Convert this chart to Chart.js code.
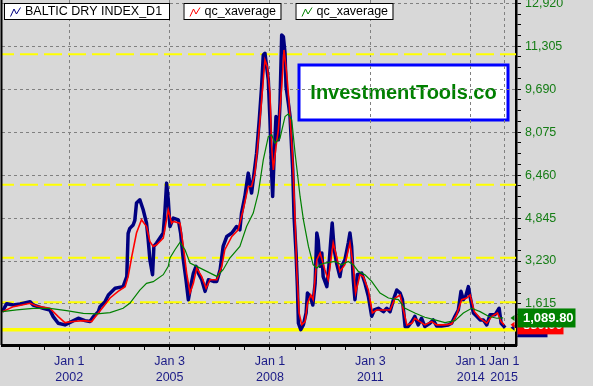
<!DOCTYPE html>
<html><head><meta charset="utf-8">
<script src="https://cdn.jsdelivr.net/npm/chart.js@4.4.0/dist/chart.umd.min.js"></script>
<style>
html,body{margin:0;padding:0;background:#d8d8d8;overflow:hidden;}
canvas{display:block;}
</style></head><body>
<canvas id="c" width="593" height="386"></canvas>
<script>
// ---------- DATA ----------
const bdiDates = [2000.00,2000.13,2000.33,2000.53,2000.83,2000.92,2001.22,2001.42,2001.52,2001.67,2001.87,2002.07,2002.27,2002.47,2002.62,2002.72,2002.87,2002.92,2003.07,2003.17,2003.37,2003.61,2003.72,2003.76,2003.81,2003.91,2003.96,2004.01,2004.11,2004.21,2004.31,2004.36,2004.41,2004.49,2004.53,2004.61,2004.81,2004.86,2004.91,2004.96,2005.01,2005.11,2005.26,2005.33,2005.41,2005.49,2005.56,2005.63,2005.71,2005.79,2005.86,2005.96,2006.06,2006.16,2006.31,2006.41,2006.51,2006.60,2006.71,2006.86,2007.00,2007.10,2007.15,2007.25,2007.35,2007.40,2007.45,2007.50,2007.60,2007.68,2007.75,2007.80,2007.85,2007.90,2007.95,2008.00,2008.05,2008.08,2008.12,2008.18,2008.25,2008.30,2008.35,2008.40,2008.45,2008.48,2008.55,2008.60,2008.68,2008.72,2008.78,2008.82,2008.85,2008.92,2009.00,2009.08,2009.12,2009.20,2009.28,2009.35,2009.40,2009.44,2009.50,2009.55,2009.59,2009.70,2009.76,2009.82,2009.86,2009.92,2009.99,2010.09,2010.14,2010.24,2010.34,2010.39,2010.44,2010.49,2010.54,2010.61,2010.74,2010.84,2010.94,2011.04,2011.12,2011.24,2011.39,2011.49,2011.59,2011.69,2011.79,2011.89,2011.96,2012.04,2012.13,2012.24,2012.33,2012.43,2012.53,2012.63,2012.78,2012.88,2012.98,2013.13,2013.33,2013.43,2013.53,2013.63,2013.71,2013.78,2013.85,2013.93,2013.98,2014.08,2014.18,2014.28,2014.38,2014.48,2014.58,2014.73,2014.85,2014.91,2014.98,2015.03];
const bdiValues = [1326,1627,1577,1615,1703,1577,1453,1390,1139,891,828,954,1078,990,954,1139,1327,1515,1703,1954,2205,2267,2643,4270,4458,4584,4760,5408,5532,5157,4656,4030,3279,2716,3779,3906,4281,5094,6159,5532,4528,4845,4780,4281,3279,2528,1777,2267,2770,3030,2770,2528,2090,2528,2465,2465,2903,3779,4155,4281,4528,4405,5032,5658,6535,6159,5784,6284,7286,8537,9788,10978,11042,10539,10039,8537,6535,5658,7034,8661,7786,9164,11729,11666,11042,9788,9164,8661,6659,4905,3530,2267,891,649,838,1277,2028,1903,1577,2392,4281,4030,3030,3530,2643,2267,3030,4030,4656,3655,3154,2643,3030,3279,3906,4281,3779,2528,1777,2716,2779,2392,1903,1153,1390,1453,1327,1453,1327,1777,2140,2028,1777,767,767,954,1153,828,1078,767,891,1015,790,790,828,891,1153,1390,2090,1777,1903,2267,1903,1277,1153,1015,1015,828,1215,1215,1453,891,790,720];

const redDates = [2000.00,2000.33,2000.83,2001.03,2001.42,2001.67,2001.87,2002.12,2002.42,2002.67,2002.82,2003.02,2003.22,2003.46,2003.67,2003.76,2003.87,2004.01,2004.16,2004.31,2004.41,2004.51,2004.61,2004.81,2004.96,2005.06,2005.11,2005.31,2005.41,2005.51,2005.61,2005.71,2005.81,2005.96,2006.09,2006.21,2006.41,2006.56,2006.65,2006.86,2007.05,2007.20,2007.35,2007.45,2007.55,2007.65,2007.75,2007.85,2007.92,2008.00,2008.05,2008.10,2008.18,2008.25,2008.35,2008.42,2008.50,2008.58,2008.68,2008.75,2008.80,2008.87,2008.95,2009.05,2009.12,2009.22,2009.29,2009.40,2009.50,2009.64,2009.74,2009.89,2009.99,2010.09,2010.24,2010.39,2010.49,2010.56,2010.69,2010.79,2010.94,2011.06,2011.19,2011.39,2011.59,2011.74,2011.89,2011.99,2012.09,2012.24,2012.33,2012.48,2012.63,2012.83,2012.98,2013.23,2013.43,2013.58,2013.73,2013.88,2013.98,2014.11,2014.28,2014.48,2014.63,2014.80,2014.91,2015.00];
const redValues = [1326,1515,1640,1540,1453,1139,916,954,991,954,1202,1515,1840,2090,2267,2643,3405,4281,4784,4528,3967,3779,3843,4093,5157,4656,4718,4656,3779,2770,2028,2392,2966,2643,2205,2528,2528,3030,3655,4155,4405,5157,6034,6034,6535,7786,9288,10790,10539,9539,7534,6659,7534,8162,9788,11166,10290,9037,7034,4780,2903,1277,838,954,1640,1954,1777,3279,3530,2903,2528,3906,3405,2840,3091,3906,3030,2028,2716,2643,2140,1277,1390,1390,1390,1840,1954,1390,828,891,1078,954,828,954,828,828,866,1215,1777,1840,1954,1327,1078,891,1153,1277,954,830];

const greenDates = [2000.00,2000.43,2000.92,2001.42,2001.92,2002.42,2002.82,2003.22,2003.61,2003.81,2004.11,2004.31,2004.51,2004.81,2004.96,2005.01,2005.16,2005.31,2005.46,2005.61,2005.81,2006.11,2006.41,2006.60,2006.80,2007.10,2007.30,2007.50,2007.65,2007.80,2007.95,2008.05,2008.15,2008.30,2008.45,2008.55,2008.65,2008.75,2008.90,2009.00,2009.15,2009.29,2009.40,2009.50,2009.64,2009.94,2010.14,2010.34,2010.49,2010.64,2010.84,2011.04,2011.29,2011.54,2011.84,2012.04,2012.33,2012.63,2012.93,2013.23,2013.53,2013.78,2014.03,2014.28,2014.53,2014.78,2014.97];
const greenValues = [1326,1390,1453,1453,1365,1265,1240,1290,1453,1640,2140,2392,2455,2716,3030,3343,3655,3930,3655,3154,3030,2840,2652,2903,3343,3779,4528,5032,5784,7034,7910,7974,7662,7849,8661,8762,8537,7286,5658,4780,3779,3091,2966,3091,3154,3217,3091,3217,3091,2840,2716,2465,2028,1840,1777,1453,1277,1115,1015,916,991,1277,1453,1327,1153,1078,1089.8];

const legendLabels = ['BALTIC DRY INDEX_D1','qc_xaverage','qc_xaverage'];
const seriesColors = ['#000080','#ff0000','#008000'];

const xLabelTicks = [2002,2005,2008,2011,2014,2015];
const xLabelLines = [['Jan 1','2002'],['Jan 3','2005'],['Jan 1','2008'],['Jan 3','2011'],['Jan 1','2014'],['Jan 1','2015']];
const xMinorTicks = [2000.5,2001.25,2002.75,2003.5,2004.25,2005.75,2006.5,2007.25,2008.75,2009.5,2010.25,2011.75,2012.5,2013.25,2014.25,2014.5,2014.75];

const yLabelTicks = [1615,3230,4845,6460,8075,9690,11305,12920];
const yellowDashed = [11000,6100,3350,1680];
const yellowSolid = [650];
const watermarkText = 'InvestmentTools.co';

// ---------- CHART ----------
const FONT = '"Liberation Sans", Arial, sans-serif';
const xAll = xLabelTicks.concat(xMinorTicks).sort((a,b)=>a-b);
const yStep = yLabelTicks[0]/4;
const yAll = [];
for (let v = yStep; v <= yLabelTicks[yLabelTicks.length-1] + 1; v += yStep) yAll.push(Math.round(v*100)/100);
const isYLabel = v => yLabelTicks.some(t => Math.abs(t - v) < 0.5);

function pts(xs, ys){ return xs.map((x,i)=>({x:x, y:ys[i]})); }

const overlay = {
  id:'overlay',
  beforeDraw(chart){
    const ctx = chart.ctx;
    ctx.save();
    ctx.fillStyle = '#ffffff';
    ctx.fillRect(299,65,209,55);
    ctx.strokeStyle = '#0000ff'; ctx.lineWidth = 3;
    ctx.strokeRect(299,65,209,55);
    ctx.fillStyle = '#008000';
    ctx.font = 'bold 20px ' + FONT;
    ctx.textAlign = 'center'; ctx.textBaseline = 'middle';
    ctx.fillText(watermarkText, 403.5, 93);
    ctx.restore();
  },
  beforeDatasetsDraw(chart){
    const ctx = chart.ctx, a = chart.chartArea, ys = chart.scales.y;
    ctx.save();
    ctx.strokeStyle = '#ffff00';
    ctx.lineWidth = 2; ctx.setLineDash([18,6]); ctx.lineDashOffset = 6;
    yellowDashed.forEach(v => { const y = ys.getPixelForValue(v); ctx.beginPath(); ctx.moveTo(a.left, y); ctx.lineTo(a.right, y); ctx.stroke(); });
    ctx.setLineDash([]); ctx.lineWidth = 3.5;
    yellowSolid.forEach(v => { const y = ys.getPixelForValue(v); ctx.beginPath(); ctx.moveTo(a.left, y); ctx.lineTo(a.right, y); ctx.stroke(); });
    ctx.restore();
  },
  afterDraw(chart){
    const ctx = chart.ctx, a = chart.chartArea, ys = chart.scales.y;
    ctx.save();
    ctx.strokeStyle = '#000'; ctx.lineWidth = 2;
    ctx.beginPath(); ctx.moveTo(1.5, a.top); ctx.lineTo(1.5, a.bottom); ctx.stroke();
    const boxes = [[4,3,165,16],[183.5,3,97,16],[295.5,3,97,16]];
    ctx.font = '12.5px ' + FONT; ctx.textBaseline = 'middle'; ctx.textAlign = 'left';
    boxes.forEach((b,i) => {
      ctx.fillStyle = '#fff'; ctx.fillRect(b[0], b[1], b[2], b[3]);
      ctx.strokeStyle = '#000'; ctx.lineWidth = 1; ctx.strokeRect(b[0]+0.5, b[1]+0.5, b[2], b[3]);
      const ix = b[0] + 6.5, iy = b[1];
      ctx.strokeStyle = seriesColors[i]; ctx.lineWidth = 1;
      ctx.beginPath(); ctx.moveTo(ix, iy+13.5); ctx.lineTo(ix+3.5, iy+6); ctx.lineTo(ix+6, iy+11); ctx.lineTo(ix+10, iy+4.5); ctx.stroke();
      ctx.fillStyle = '#000';
      ctx.fillText(legendLabels[i], b[0] + 21, b[1] + 8.8);
    });
    const lasts = [
      {v: bdiValues[bdiValues.length-1], c: seriesColors[0], w: 30},
      {v: redValues[redValues.length-1], c: seriesColors[1], w: 46},
      {v: greenValues[greenValues.length-1], c: seriesColors[2], w: 58}
    ];
    ctx.font = 'bold 13px ' + FONT;
    lasts.forEach(l => {
      const y = ys.getPixelForValue(l.v);
      ctx.fillStyle = l.c;
      ctx.beginPath(); ctx.moveTo(a.right - 1.5, y - 3); ctx.lineTo(a.right - 5.5, y); ctx.lineTo(a.right - 1.5, y + 3); ctx.closePath(); ctx.fill();
      ctx.fillRect(a.right + 1.5, y - 9.5, l.w, 19);
      ctx.fillStyle = '#fff';
      ctx.fillText(l.v.toLocaleString('en-US',{minimumFractionDigits:2, maximumFractionDigits:2}), a.right + 7, y + 0.5);
    });
    ctx.restore();
  }
};

new Chart(document.getElementById('c'), {
  type: 'line',
  data: {
    datasets: [
      {label: legendLabels[2], data: pts(greenDates, greenValues), borderColor: seriesColors[2], borderWidth: 1.2, pointRadius: 0, order: 1},
      {label: legendLabels[1], data: pts(redDates, redValues), borderColor: seriesColors[1], borderWidth: 1.6, pointRadius: 0, order: 2},
      {label: legendLabels[0], data: pts(bdiDates, bdiValues), borderColor: seriesColors[0], borderWidth: 3.5, pointRadius: 0, order: 3, borderJoinStyle: 'round'}
    ]
  },
  options: {
    responsive: false, animation: false, events: [],
    layout: {padding: {left: 2, top: 0, right: 0, bottom: 0}},
    plugins: {legend: {display: false}, tooltip: {enabled: false}},
    elements: {line: {tension: 0}},
    scales: {
      x: {
        type: 'linear', position: 'bottom', min: 1999.99, max: 2015.354, bounds: 'data',
        afterFit(s){ s.height = 41; s.paddingLeft = 0; s.paddingRight = 0; s.paddingTop = 0; s.paddingBottom = 0; },
        afterBuildTicks(s){ s.ticks = xAll.map(v => ({value: v})); },
        ticks: {
          autoSkip: false, maxRotation: 0, minRotation: 0, padding: 4,
          color: '#1b1b87', font: {family: FONT, size: 12.5, lineHeight: '16px'},
          callback(v){ const i = xLabelTicks.indexOf(v); return i >= 0 ? xLabelLines[i] : ''; }
        },
        grid: {
          color: c => (c.tick && xLabelTicks.indexOf(c.tick.value) >= 0) ? '#808080' : 'rgba(0,0,0,0)',
          lineWidth: 1, tickLength: 5, tickColor: '#000', tickWidth: 1, tickBorderDash: []
        },
        border: {display: true, color: '#000', width: 3, dash: [3,3]}
      },
      y: {
        type: 'linear', position: 'right', min: 73, max: 13044, bounds: 'data',
        afterFit(s){ s.width = 77; s.paddingTop = 0; s.paddingBottom = 0; s.paddingLeft = 0; s.paddingRight = 0; },
        afterBuildTicks(s){ s.ticks = yAll.map(v => ({value: v})); },
        ticks: {
          autoSkip: false, padding: 4, color: '#157d15',
          font: {family: FONT, size: 12.5},
          callback(v){ return isYLabel(v) ? Math.round(v).toLocaleString('en-US') : ''; }
        },
        grid: {
          color: c => (c.tick && isYLabel(c.tick.value)) ? '#808080' : 'rgba(0,0,0,0)',
          lineWidth: 1, tickLength: 5, tickColor: '#000', tickWidth: 1, tickBorderDash: []
        },
        border: {display: true, color: '#000', width: 2.5, dash: [3,3]}
      }
    }
  },
  plugins: [overlay]
});
</script>
</body></html>
